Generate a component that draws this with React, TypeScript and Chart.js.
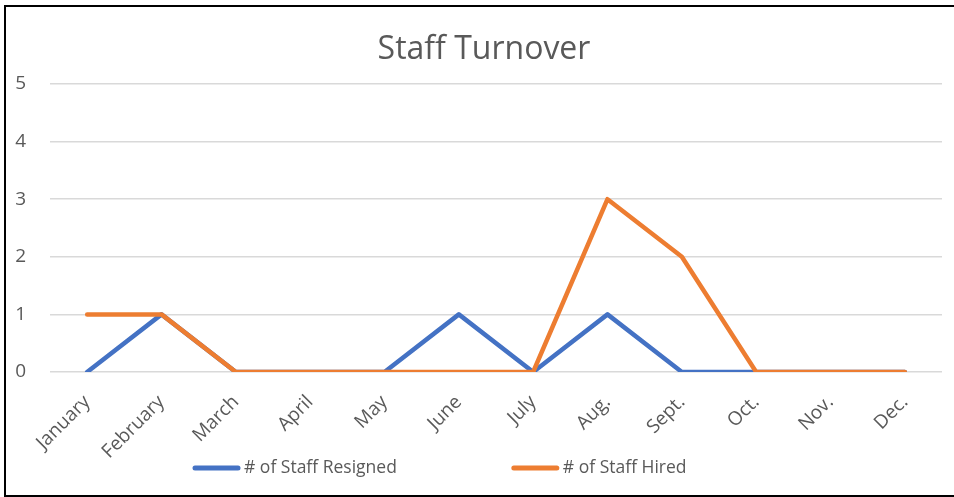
import React, { useEffect, useRef } from "react";
import { Chart, registerables } from "chart.js";

Chart.register(...registerables);

const TITLE = "Staff Turnover";
const MONTHS = ["January", "February", "March", "April", "May", "June", "July", "Aug.", "Sept.", "Oct.", "Nov.", "Dec."];
const RESIGNED_LABEL = "# of Staff Resigned";
const HIRED_LABEL = "# of Staff Hired";
const RESIGNED = [0, 1, 0, 0, 0, 1, 0, 1, 0, 0, 0, 0];
const HIRED = [1, 1, 0, 0, 0, 0, 0, 3, 2, 0, 0, 0];
const Y_MIN = 0;
const Y_MAX = 5;

const FONT = '"Open Sans", "Noto Sans", sans-serif';
const TEXT_COLOR = "#595959";

const overlayPlugin = {
  id: "overlay",
  afterDraw(chart: any) {
    const ctx = chart.ctx as CanvasRenderingContext2D;
    ctx.save();
    ctx.fillStyle = TEXT_COLOR;
    ctx.font = `32px ${FONT}`;
    ctx.textAlign = "center";
    ctx.textBaseline = "middle";
    ctx.fillText(TITLE, 484, 50);

    // legend
    ctx.font = `17.5px ${FONT}`;
    ctx.textAlign = "left";
    const lineLen = 47;
    const gapText = 4;
    const gapItems = 115;
    let x = 193;
    const y = 468;
    const datasets = chart.data.datasets;
    datasets.forEach((ds: any) => {
      ctx.strokeStyle = ds.borderColor;
      ctx.lineWidth = 5;
      ctx.lineCap = "round";
      ctx.beginPath();
      ctx.moveTo(x + 2, y);
      ctx.lineTo(x + lineLen - 2, y);
      ctx.stroke();
      const tx = x + lineLen + gapText;
      ctx.fillText(ds.label, tx, y);
      x = tx + ctx.measureText(ds.label).width + gapItems;
    });
    ctx.restore();
  },
};

export default function App() {
  const ref = useRef<HTMLCanvasElement>(null);
  useEffect(() => {
    if (!ref.current) return;
    const chart = new Chart(ref.current, {
      type: "line",
      data: {
        labels: MONTHS,
        datasets: [
          {
            label: RESIGNED_LABEL,
            data: RESIGNED,
            borderColor: "#4472C4",
            backgroundColor: "#4472C4",
            borderWidth: 4.5,
            pointRadius: 0,
            borderCapStyle: "round",
            borderJoinStyle: "round",
            tension: 0,
            order: 1,
          },
          {
            label: HIRED_LABEL,
            data: HIRED,
            borderColor: "#ED7D31",
            backgroundColor: "#ED7D31",
            borderWidth: 4.5,
            pointRadius: 0,
            borderCapStyle: "round",
            borderJoinStyle: "round",
            tension: 0,
            order: 0,
          },
        ],
      },
      options: {
        responsive: false,
        animation: false,
        layout: { padding: { top: 84, left: 0, right: 12, bottom: 35 } },
        plugins: {
          legend: { display: false },
          title: { display: false },
          tooltip: { enabled: false },
        },
        scales: {
          x: {
            offset: true,
            grid: { display: false, drawTicks: false },
            border: { display: false },
            ticks: {
              color: TEXT_COLOR,
              font: { family: FONT, size: 19 },
              minRotation: 45,
              maxRotation: 45,
              autoSkip: false,
              padding: 19,
            },
            afterFit: (s: any) => {
              s.height = 90;
            },
          },
          y: {
            min: Y_MIN,
            max: Y_MAX,
            grid: { color: "#d9d9d9", lineWidth: 1.5, drawTicks: false },
            border: { display: false },
            ticks: {
              stepSize: 1,
              color: TEXT_COLOR,
              font: { family: FONT, size: 19 },
              padding: 24,
            },
            afterFit: (s: any) => {
              s.width = 50;
            },
          },
        },
      },
      plugins: [overlayPlugin],
    } as any);
    return () => chart.destroy();
  }, []);

  return (
    <div style={{ position: "absolute", left: 0, top: 0, width: 954, height: 497, overflow: "hidden", background: "#fff" }}>
      <div
        style={{
          position: "absolute",
          left: 4,
          top: 5,
          width: 980,
          height: 492,
          boxSizing: "border-box",
          border: "2px solid #000",
        }}
      />
      <canvas ref={ref} width={954} height={497} style={{ position: "absolute", left: 0, top: 0 }} />
    </div>
  );
}
